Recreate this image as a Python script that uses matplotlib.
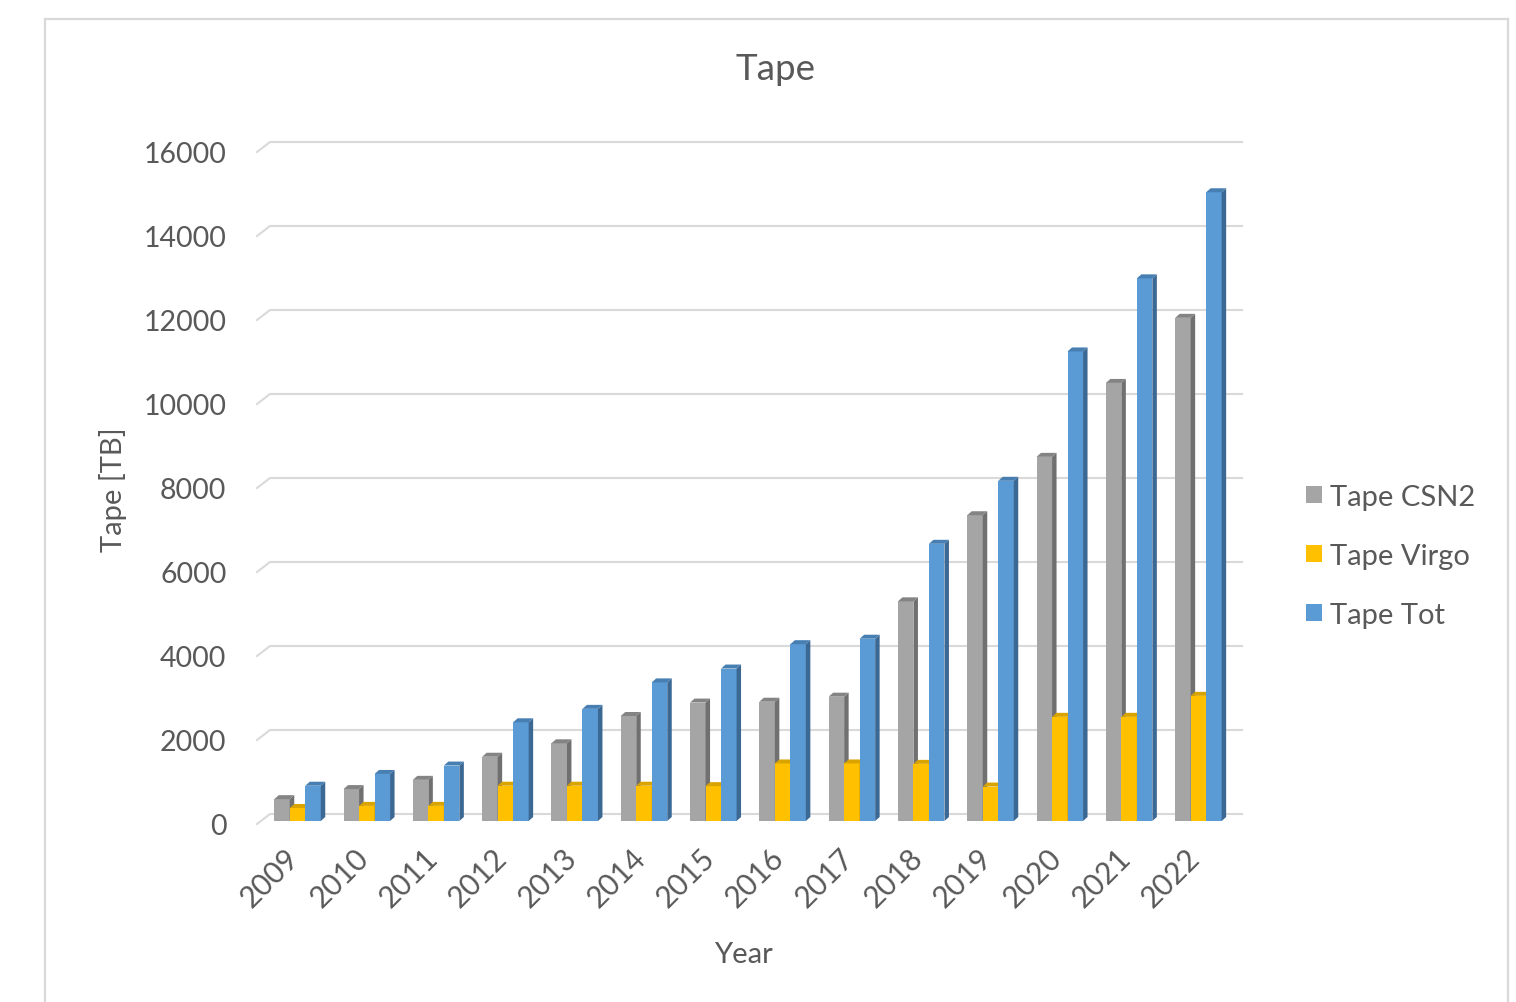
import matplotlib
matplotlib.use('Agg')
import matplotlib.pyplot as plt
import matplotlib.transforms as mtransforms
from matplotlib.patches import Polygon, Patch
from matplotlib.lines import Line2D

plt.rcParams['font.family'] = ['Lato', 'DejaVu Sans']

anni = ['2009', '2010', '2011', '2012', '2013', '2014', '2015',
        '2016', '2017', '2018', '2019', '2020', '2021', '2022']
tape_csn2 = [520, 760, 980, 1530, 1850, 2500, 2820, 2840, 2960, 5230, 7280, 8670, 10430, 11980]
tape_virgo = [310, 360, 360, 840, 840, 840, 830, 1370, 1370, 1360, 820, 2480, 2480, 2980]
tape_tot = [840, 1120, 1320, 2350, 2670, 3300, 3630, 4210, 4340, 6600, 8100, 11180, 12920, 14970]
nomi = ['Tape CSN2', 'Tape Virgo', 'Tape Tot']
y_ticks = list(range(0, 16001, 2000))

# colori: faccia frontale, faccia superiore, faccia laterale
colori = [('#a5a5a5', '#848484', '#707070'),
          ('#ffc000', '#d9a300', '#bf8f00'),
          ('#5b9bd5', '#477fb3', '#3c6894')]
grigio_testo = '#595959'
grigio_linee = '#d9d9d9'

W, H = 1516, 1003
fig = plt.figure(figsize=(W / 100, H / 100), dpi=100)

# area del grafico in pixel
ax_l, ax_r, ax_t, ax_b = 257, 1242, 143, 826
ax = fig.add_axes([ax_l / W, 1 - ax_b / H, (ax_r - ax_l) / W, (ax_b - ax_t) / H])

passo = 69.3      # pixel tra due anni
px_tb = 0.042     # pixel per TB
x_min = (ax_l - 297.5) / passo
x_max = (ax_r - 297.5) / passo
ax.set_xlim(x_min, x_max)
ax.set_ylim(-4 / px_tb, (822 - ax_t) / px_tb)

dxu = 1 / passo   # unita' dati per pixel orizzontale
dyu = 1 / px_tb   # unita' dati per pixel verticale

# griglia sul muro di fondo con il tratto obliquo a sinistra
for v in y_ticks:
    ax.add_line(Line2D([x_min, x_min + 13 * dxu, x_max],
                       [v - 3 * dyu, v + 7 * dyu, v + 7 * dyu],
                       color=grigio_linee, lw=1.5, zorder=1, clip_on=False))

# colonne 3d: frontale, lato destro, sopra
bw = 15.5 * dxu
ddx, ddy = 4.5 * dxu, 4 * dyu
serie = [tape_csn2, tape_virgo, tape_tot]
for i in range(len(anni)):
    for k, valori in enumerate(serie):
        v = valori[i]
        x = i - 1.5 * bw + k * bw
        front, top, side = colori[k]
        ax.bar(x, v, width=bw, align='edge', color=front, zorder=2)
        ax.add_patch(Polygon([(x + bw, 0), (x + bw + ddx, ddy), (x + bw + ddx, v + ddy), (x + bw, v)],
                             closed=True, facecolor=side, edgecolor='none', zorder=2))
        ax.add_patch(Polygon([(x, v), (x + ddx, v + ddy), (x + bw + ddx, v + ddy), (x + bw, v)],
                             closed=True, facecolor=top, edgecolor='none', zorder=2))

for s in ax.spines.values():
    s.set_visible(False)
ax.patch.set_visible(False)

ax.set_yticks([v - 3 * dyu for v in y_ticks])
ax.set_yticklabels([str(v) for v in y_ticks])
ax.set_xticks(range(len(anni)))
ax.set_xticklabels(anni, rotation=45, ha='right')
ax.tick_params(axis='y', length=0, pad=22, labelsize=20.5, labelcolor=grigio_testo)
ax.tick_params(axis='x', length=0, pad=13, labelsize=21.5, labelcolor=grigio_testo)
sposta = mtransforms.ScaledTranslation(7 / 100, 0, fig.dpi_scale_trans)
for lab in ax.get_xticklabels():
    lab.set_transform(lab.get_transform() + sposta)

fig.text(776 / W, 1 - 70 / H, 'Tape', ha='center', va='center', fontsize=26.5, color=grigio_testo)
fig.text(743 / W, 1 - 955 / H, 'Year', ha='center', va='center', fontsize=21, color=grigio_testo)
fig.text(113 / W, 1 - 490 / H, 'Tape [TB]', ha='center', va='center', rotation=90,
         fontsize=21, color=grigio_testo)

maniglie = [Patch(facecolor=c[0], edgecolor='none') for c in colori]
fig.legend(maniglie, nomi, loc='center left', bbox_to_anchor=(1280 / W, 1 - 557 / H),
           frameon=False, fontsize=21, handlelength=0.53, handleheight=0.53,
           handletextpad=0.3, labelspacing=1.13, labelcolor=grigio_testo)

# cornice del grafico
for xs, ys in [([45, 45], [1010, 20]), ([45, 1508], [20, 20]), ([1508, 1508], [20, 1010])]:
    fig.add_artist(Line2D([x / W for x in xs], [1 - y / H for y in ys],
                          transform=fig.transFigure, color=grigio_linee, lw=1.6))

fig.savefig('out.png', dpi=100)
